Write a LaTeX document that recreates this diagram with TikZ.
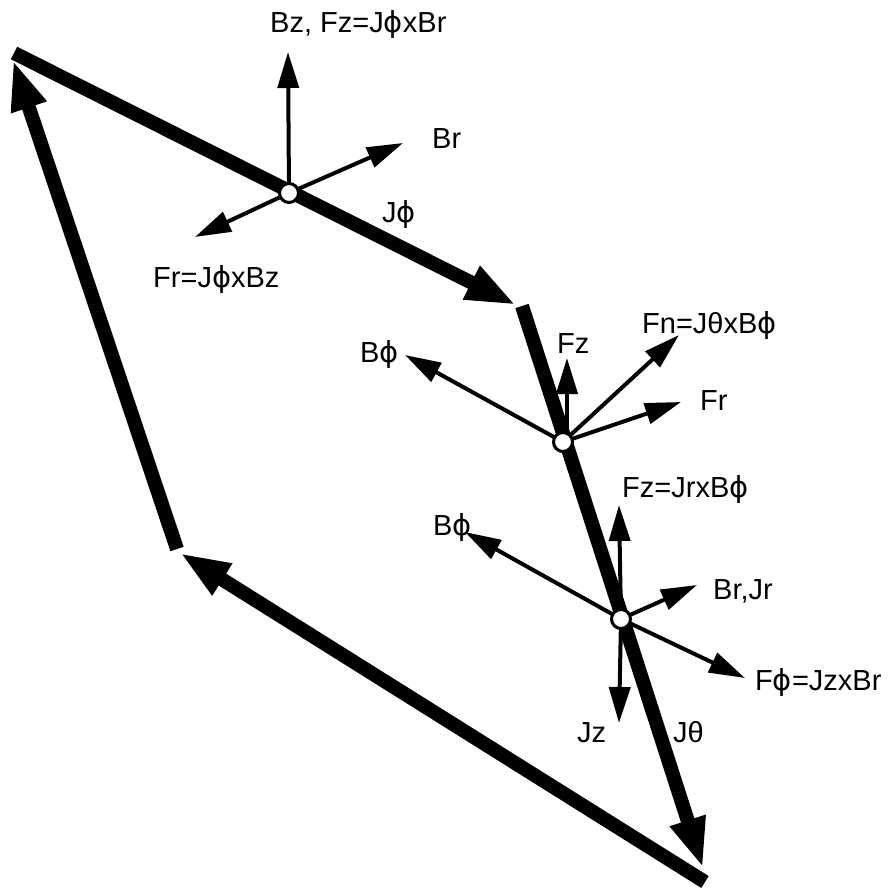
\documentclass[tikz,border=0pt]{standalone}
\usepackage{fontspec}
\setmainfont{Liberation Sans}
\newfontfamily\greekfont{DejaVu Sans}
\newcommand{\phis}{{\greekfont ϕ}}
\usetikzlibrary{arrows.meta}

\begin{document}
\begin{tikzpicture}[
    x=1pt, y=-1pt,
    current/.style={
        line width=14pt,
        -{Triangle[length=50pt,width=34pt]}
    },
    vec/.style={
        line width=4pt,
        -{Triangle[length=36pt,width=21pt]}
    },
    probe/.style={
        circle,
        draw,
        fill=white,
        line width=3pt,
        minimum size=19pt,
        inner sep=0pt
    },
    lab/.style={
        font=\fontsize{29}{33}\selectfont,
        anchor=base west,
        inner sep=0pt
    }
]
\useasboundingbox (0,0) rectangle (890,891);

% =========================================================
% Current loop: corners and probe points
% =========================================================
\coordinate (a0) at (14,53);
\coordinate (b1) at (516,305);
\coordinate (b0) at (522,306);
\coordinate (d1) at (703,868);
\coordinate (d0) at (705,882);
\coordinate (e1) at (180,553);
\coordinate (e0) at (177,549);
\coordinate (a1) at (13,60);

\coordinate (c1) at (289,193);
\coordinate (c2) at (563,442);
\coordinate (c3) at (621,619);

\draw[current] (a0) -- (b1);
\draw[current] (b0) -- (d1);
\draw[current] (d0) -- (e1);
\draw[current] (e0) -- (a1);

% =========================================================
% Upper probe
% =========================================================
\coordinate (bz1) at (288,52);
\coordinate (br1) at (403,143);
\coordinate (fr1) at (195,237);

\draw[vec] (c1) -- (bz1);
\draw[vec] (c1) -- (br1);
\draw[vec] (c1) -- (fr1);

\node[lab] (lbz1) at (270,33)  {Bz, Fz=J\phis xBr};
\node[lab] (lbr1) at (432,148) {Br};
\node[lab] (lfr1) at (153,287) {Fr=J\phis xBz};
\node[lab] (ljp)  at (382,222) {J\phis};

% =========================================================
% Middle probe
% =========================================================
\coordinate (bp2) at (405,355);
\coordinate (fz2) at (567,358);
\coordinate (fn2) at (679,335);
\coordinate (fr2) at (681,402);

\draw[vec] (c2) -- (bp2);
\draw[vec] ([xshift=4pt]c2) -- (fz2);
\draw[vec] (c2) -- (fn2);
\draw[vec] (c2) -- (fr2);

\node[lab] (lbp2) at (360,362) {B\phis};
\node[lab] (lfz2) at (557,353) {Fz};
\node[lab] (lfn2) at (642,333) {Fn=JθxB\phis};
\node[lab] (lfr2) at (700,410) {Fr};

% =========================================================
% Lower probe
% =========================================================
\coordinate (fz3) at (619,505);
\coordinate (bp3) at (465,532);
\coordinate (br3) at (697,585);
\coordinate (fp3) at (745,678);
\coordinate (jz3) at (619,723);

\draw[vec] (c3) -- (fz3);
\draw[vec] (c3) -- (bp3);
\draw[vec] (c3) -- (br3);
\draw[vec] (c3) -- (fp3);
\draw[vec] (c3) -- (jz3);

\node[lab] (lfz3) at (622,497) {Fz=JrxB\phis};
\node[lab] (lbp3) at (433,535) {B\phis};
\node[lab] (lbr3) at (713,599) {Br,Jr};
\node[lab] (lfp3) at (755,690) {F\phis=JzxBr};
\node[lab] (ljz3) at (577,742) {Jz};
\node[lab] (ljt)  at (673,742) {Jθ};

% probe markers on top
\node[probe] (p1) at (c1) {};
\node[probe] (p2) at (c2) {};
\node[probe] (p3) at (c3) {};

\end{tikzpicture}
\end{document}
